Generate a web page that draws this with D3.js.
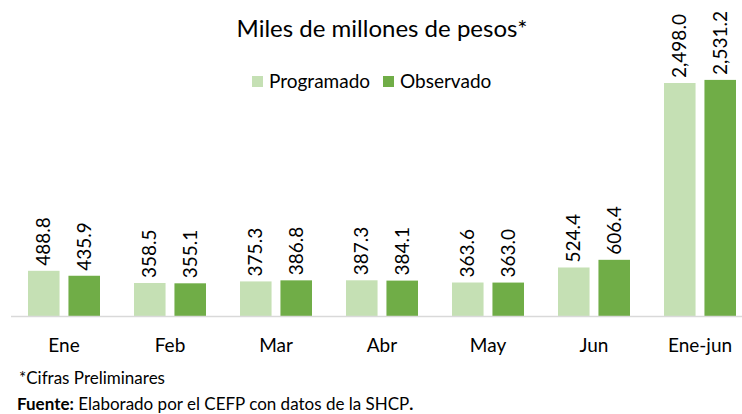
<!DOCTYPE html>
<html lang="es">
<head>
<meta charset="UTF-8">
<title>Miles de millones de pesos</title>
<script src="https://cdn.jsdelivr.net/npm/d3@7"></script>
<style>
  body { margin: 0; background: #fff; }
  svg text { font-family: Lato, "Open Sans", sans-serif; fill: #000; }
</style>
</head>
<body>
<div id="chart"></div>
<script>
var width = 742, height = 414;

// data
var meses = ["Ene", "Feb", "Mar", "Abr", "May", "Jun", "Ene-jun"];
var programado = [488.8, 358.5, 375.3, 387.3, 363.6, 524.4, 2498.0];
var observado = [435.9, 355.1, 386.8, 384.1, 363.0, 606.4, 2531.2];
var series = ["Programado", "Observado"];
var colores = ["#C5E0B4", "#70AD47"];

var svg = d3.select("#chart").append("svg")
    .attr("width", width)
    .attr("height", height);

var x = d3.scaleBand().domain(meses).range([11, 753]);
var x1 = d3.scaleBand().domain(series).range([17, 89]).paddingInner(0.22);
var y = d3.scaleLinear().domain([0, 2498]).range([316.5, 83]);

var fmt = d3.format(",.1f");

// title
svg.append("text")
    .attr("x", 382).attr("y", 37)
    .attr("text-anchor", "middle")
    .style("font-size", "24px")
    .text("Miles de millones de pesos*");

// legend
var leg = svg.append("g");
var legX = [252, 383];
series.forEach(function(s, i) {
    leg.append("rect")
        .attr("x", legX[i]).attr("y", 76)
        .attr("width", 11).attr("height", 11)
        .attr("fill", colores[i]);
    leg.append("text")
        .attr("x", legX[i] + 17).attr("y", 88)
        .style("font-size", "19px")
        .text(s);
});

// bars
var rows = meses.map(function(m, i) {
    return [{mes: m, s: series[0], v: programado[i], c: colores[0]},
            {mes: m, s: series[1], v: observado[i], c: colores[1]}];
});

var g = svg.selectAll(".grupo")
    .data(rows)
    .enter().append("g")
    .attr("class", "grupo")
    .attr("transform", function(d) { return "translate(" + x(d[0].mes) + ",0)"; });

g.selectAll("rect")
    .data(function(d) { return d; })
    .enter().append("rect")
    .attr("x", function(d) { return x1(d.s); })
    .attr("y", function(d) { return y(d.v); })
    .attr("width", x1.bandwidth())
    .attr("height", function(d) { return y(0) - y(d.v); })
    .attr("fill", function(d) { return d.c; });

g.selectAll(".etiqueta")
    .data(function(d) { return d; })
    .enter().append("text")
    .attr("class", "etiqueta")
    .attr("transform", function(d) {
        return "translate(" + (x1(d.s) + x1.bandwidth() / 2) + "," + (y(d.v) - 5) + ") rotate(-90)";
    })
    .attr("dy", "0.35em")
    .style("font-size", "19px")
    .text(function(d) { return fmt(d.v); });

// axis line
svg.append("line")
    .attr("x1", 11).attr("x2", width)
    .attr("y1", y(0)).attr("y2", y(0))
    .attr("stroke", "#D9D9D9")
    .attr("stroke-width", 1.5);

svg.selectAll(".mes")
    .data(meses)
    .enter().append("text")
    .attr("class", "mes")
    .attr("x", function(d) { return x(d) + x.bandwidth() / 2; })
    .attr("y", 352)
    .attr("text-anchor", "middle")
    .style("font-size", "19px")
    .text(function(d) { return d; });

// notes
svg.append("text")
    .attr("x", 19).attr("y", 384)
    .style("font-size", "17px")
    .text("*Cifras Preliminares");

var fuente = svg.append("text")
    .attr("x", 17).attr("y", 410)
    .style("font-size", "17px");
fuente.append("tspan").style("font-weight", "bold").text("Fuente:");
fuente.append("tspan").text(" Elaborado por el CEFP con datos de la SHCP");
fuente.append("tspan").style("font-weight", "bold").text(".");
</script>
</body>
</html>
